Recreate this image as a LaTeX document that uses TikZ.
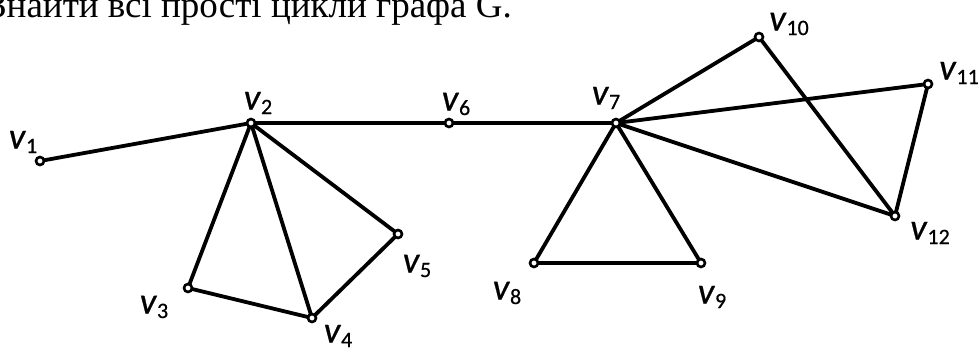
\documentclass[tikz,border=0pt]{standalone}
\usepackage{fontspec}
\setmainfont{Liberation Serif}
\newfontfamily\lblfont[FakeBold=0.6]{Carlito}
\newcommand\vlab[1]{\textit{v}\raisebox{-4.5pt}{\fontsize{22}{22}\selectfont #1}}
\pgfdeclarelayer{bg}
\pgfsetlayers{bg,main}
\begin{document}
\begin{tikzpicture}[x=1pt,y=-1pt,
  vtx/.style={circle,draw,line width=2.6pt,fill=white,inner sep=0pt,minimum size=8pt},
  edge/.style={line width=3.8pt},
  lbl/.style={inner sep=0pt,font=\lblfont\fontsize{37}{37}\selectfont},
  ttl/.style={inner sep=0pt,anchor=base west,font=\fontsize{37}{37}\selectfont}]
\useasboundingbox (0,0) rectangle (979,349);
\node[ttl] (title) at (-12,17) {Знайти всі прості цикли графа G.};
% vertices
\node[vtx] (v1) at (40,161) {};
\node[vtx] (v2) at (251,123) {};
\node[vtx] (v3) at (188,288) {};
\node[vtx] (v4) at (312,318) {};
\node[vtx] (v5) at (398,234) {};
\node[vtx] (v6) at (449,123) {};
\node[vtx] (v7) at (616,123) {};
\node[vtx] (v8) at (534,263) {};
\node[vtx] (v9) at (701,263) {};
\node[vtx] (v10) at (759,37) {};
\node[vtx] (v11) at (928,84) {};
\node[vtx] (v12) at (895,216) {};
% labels
\node[lbl] (l1) at (23,142) {\vlab{1}};
\node[lbl] (l2) at (258,103) {\vlab{2}};
\node[lbl] (l3) at (154,307) {\vlab{3}};
\node[lbl] (l4) at (338,336) {\vlab{4}};
\node[lbl] (l5) at (417,266) {\vlab{5}};
\node[lbl] (l6) at (456,104) {\vlab{6}};
\node[lbl] (l7) at (606,98) {\vlab{7}};
\node[lbl] (l8) at (507,293) {\vlab{8}};
\node[lbl] (l9) at (712,297) {\vlab{9}};
\node[lbl] (l10) at (789,24) {\vlab{10}};
\node[lbl] (l11) at (959,73) {\vlab{11}};
\node[lbl] (l12) at (930,233) {\vlab{12}};
% edges
\begin{pgfonlayer}{bg}
\draw[edge] (v1.center) -- (v2.center);
\draw[edge] (v2.center) -- (v6.center);
\draw[edge] (v6.center) -- (v7.center);
\draw[edge] (v2.center) -- (v3.center);
\draw[edge] (v2.center) -- (v4.center);
\draw[edge] (v2.center) -- (v5.center);
\draw[edge] (v3.center) -- (v4.center);
\draw[edge] (v4.center) -- (v5.center);
\draw[edge] (v7.center) -- (v8.center);
\draw[edge] (v7.center) -- (v9.center);
\draw[edge] (v8.center) -- (v9.center);
\draw[edge] (v7.center) -- (v10.center);
\draw[edge] (v7.center) -- (v11.center);
\draw[edge] (v7.center) -- (v12.center);
\draw[edge] (v10.center) -- (v12.center);
\draw[edge] (v11.center) -- (v12.center);
\end{pgfonlayer}
\end{tikzpicture}
\end{document}
